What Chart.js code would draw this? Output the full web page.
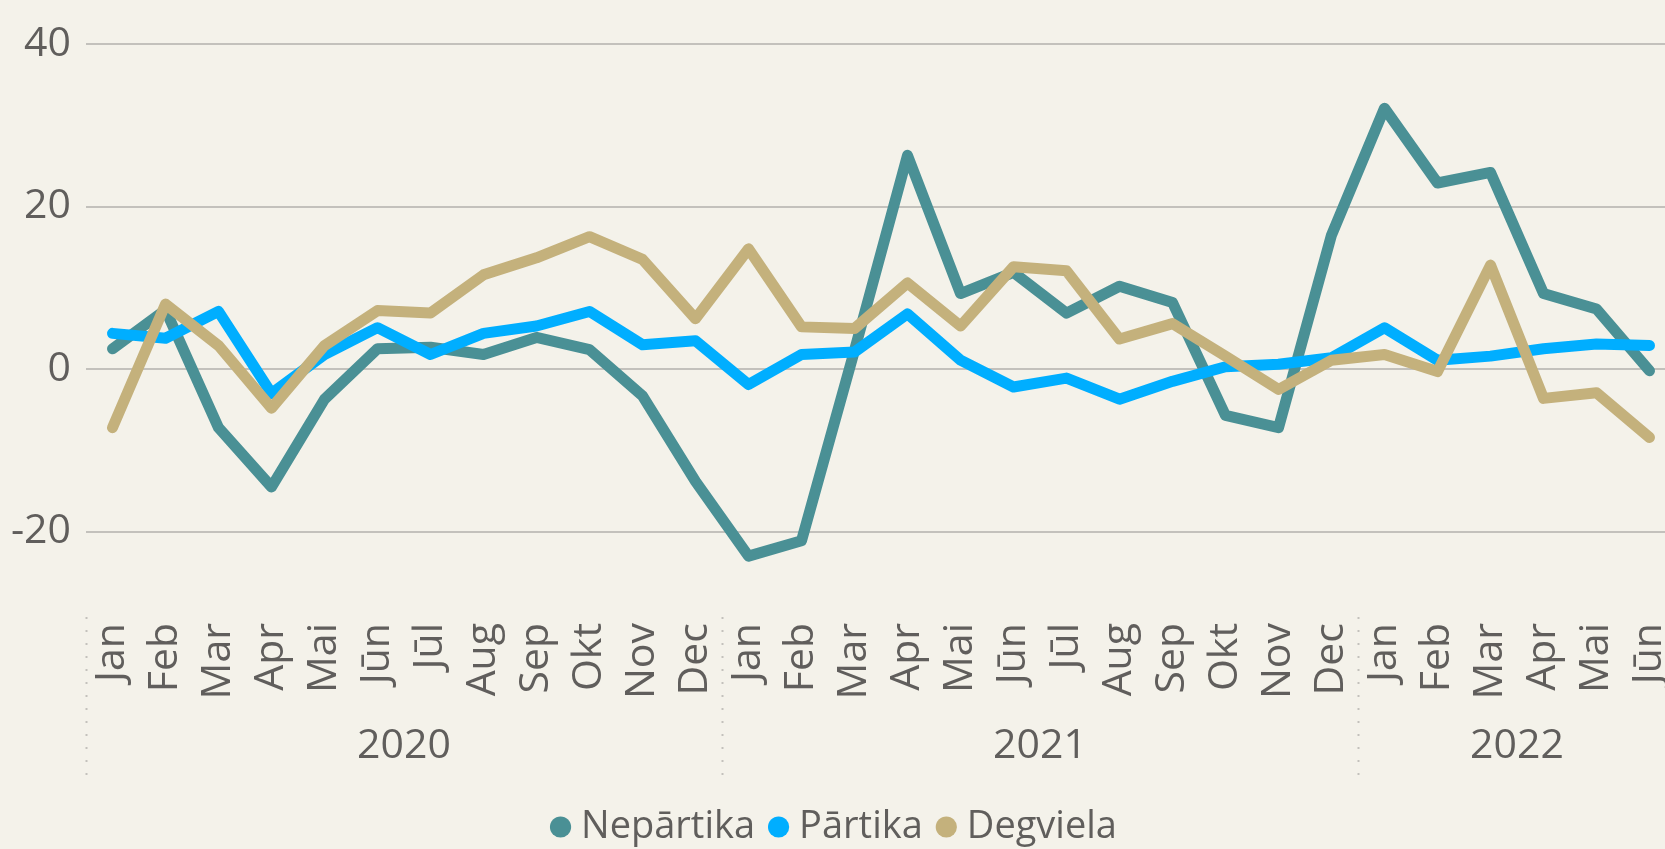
<!DOCTYPE html>
<html><head><meta charset="utf-8">
<script src="https://cdn.jsdelivr.net/npm/chart.js@4.4.1/dist/chart.umd.min.js"></script>
<style>
html,body{margin:0;padding:0;background:#F4F2EA;overflow:hidden;width:1665px;height:849px}
#wrap{position:absolute;left:0;top:0;width:1676px;height:856px}
</style></head><body>
<div id="wrap"><canvas id="c"></canvas></div>
<script>
const months = ['Jan','Feb','Mar','Apr','Mai','Jūn','Jūl','Aug','Sep','Okt','Nov','Dec',
                'Jan','Feb','Mar','Apr','Mai','Jūn','Jūl','Aug','Sep','Okt','Nov','Dec',
                'Jan','Feb','Mar','Apr','Mai','Jūn'];
const years = ['2020','2021','2022'];
const yearMonthCounts = [12,12,6];
const nepartika = [2.5,7.3,-7.2,-14.5,-3.7,2.5,2.7,1.8,3.9,2.4,-3.3,-13.8,
                   -23.0,-21.1,2.3,26.3,9.3,11.9,6.9,10.2,8.2,-5.7,-7.2,16.5,
                   32.1,22.9,24.2,9.3,7.4,-0.2];
const partika = [4.4,3.8,7.1,-3.0,1.8,5.1,1.8,4.4,5.3,7.1,3.0,3.5,
                 -1.9,1.8,2.1,6.8,1.1,-2.2,-1.1,-3.7,-1.5,0.3,0.6,1.4,
                 5.1,1.1,1.6,2.5,3.1,2.9];
const degviela = [-7.2,8.0,2.9,-4.8,2.9,7.2,6.9,11.6,13.7,16.3,13.5,6.2,
                  14.8,5.2,5.0,10.6,5.3,12.6,12.1,3.7,5.6,1.6,-2.5,1.1,
                  1.8,-0.3,12.8,-3.6,-2.9,-8.4];
const yTicks = [-20,0,20,40];

const FONT = "'Open Sans','Noto Sans',sans-serif";
const TXT = '#605E5C';

const yearPlugin = {
  id: 'years',
  afterDraw(chart) {
    const x = chart.scales.x, ctx = chart.ctx;
    const bounds = [0];
    yearMonthCounts.forEach(n => bounds.push(bounds[bounds.length - 1] + n));
    ctx.save();
    ctx.strokeStyle = '#C3C1BC';
    ctx.lineWidth = 2;
    ctx.setLineDash([2, 11]);
    for (let k = 0; k < bounds.length - 1; k++) {
      const px = Math.round(x.getPixelForValue(bounds[k] - 0.5)) + 0.5;
      ctx.beginPath();
      ctx.moveTo(px, x.top + 4);
      ctx.lineTo(px, x.top + 163);
      ctx.stroke();
    }
    ctx.setLineDash([]);
    ctx.fillStyle = TXT;
    ctx.font = '41px ' + FONT;
    ctx.textAlign = 'center';
    ctx.textBaseline = 'middle';
    years.forEach((yr, k) => {
      const mid = (bounds[k] + bounds[k + 1] - 1) / 2;
      ctx.fillText(yr, x.getPixelForValue(mid), x.top + 133);
    });
    ctx.restore();
  }
};

function ds(label, data, color, order) {
  return {
    label, data, order,
    borderColor: color, backgroundColor: color,
    borderWidth: 11, pointRadius: 0, pointHoverRadius: 0,
    tension: 0, borderJoinStyle: 'round', borderCapStyle: 'round', fill: false
  };
}

new Chart(document.getElementById('c'), {
  type: 'line',
  data: {
    labels: months,
    datasets: [
      ds('Nepārtika', nepartika, '#4A9095', 3),
      ds('Pārtika', partika, '#00AEFF', 2),
      ds('Degviela', degviela, '#C4B17C', 1)
    ]
  },
  options: {
    responsive: true,
    maintainAspectRatio: false,
    animation: false,
    layout: { padding: { top: 44, left: 0, right: 0, bottom: 0 } },
    plugins: {
      tooltip: { enabled: false },
      legend: {
        position: 'bottom',
        labels: {
          color: TXT,
          font: { family: FONT, size: 38 },
          usePointStyle: true,
          pointStyle: 'circle',
          boxWidth: 3, boxHeight: 15,
          padding: 22,
          sort: (a, b) => a.datasetIndex - b.datasetIndex,
          generateLabels(chart) {
            const items = Chart.defaults.plugins.legend.labels.generateLabels(chart);
            return items.map(it => Object.assign(it, { lineWidth: 0, strokeStyle: 'rgba(0,0,0,0)' }));
          }
        }
      }
    },
    scales: {
      x: {
        type: 'category',
        offset: true,
        grid: { display: false, drawTicks: false },
        border: { display: false },
        ticks: {
          autoSkip: false, minRotation: 90, maxRotation: 90,
          color: TXT, font: { family: FONT, size: 41 }, padding: 10
        },
        afterFit(s) { s.height = 173; s.paddingLeft = 0; s.paddingRight = 0; }
      },
      y: {
        min: -30, max: 40,
        grid: { color: '#C3C1BC', lineWidth: 2, drawTicks: false },
        border: { display: false },
        ticks: { color: TXT, font: { family: FONT, size: 41 }, padding: 15 },
        afterBuildTicks(s) { s.ticks = yTicks.map(v => ({ value: v })); },
        afterFit(s) { s.width = 86; s.paddingTop = 0; s.paddingBottom = 0; }
      }
    }
  },
  plugins: [yearPlugin]
});
</script>
</body></html>
